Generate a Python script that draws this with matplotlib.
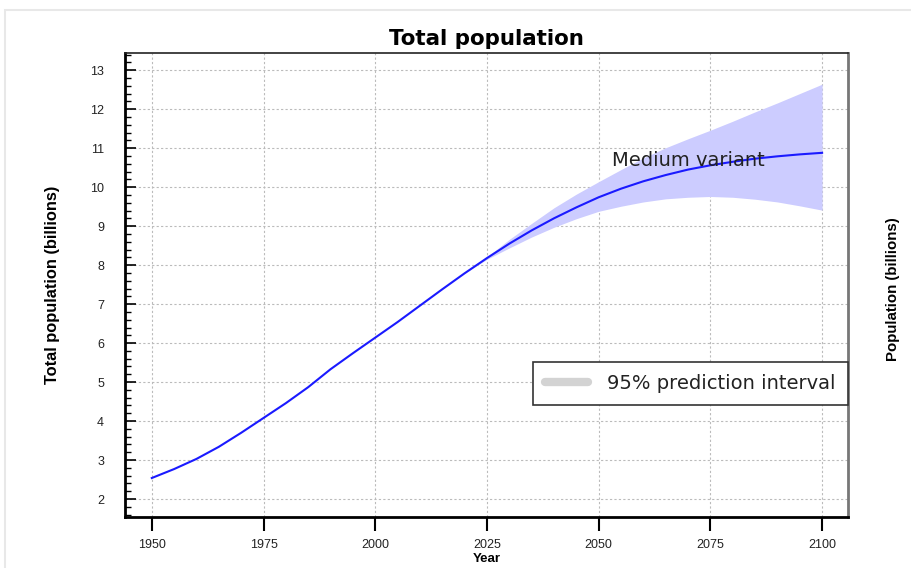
import matplotlib
matplotlib.use("Agg")
import matplotlib.pyplot as plt
from matplotlib.patches import Rectangle
from matplotlib.lines import Line2D
from matplotlib.ticker import MultipleLocator

plt.rcParams['font.family'] = ['Liberation Sans', 'DejaVu Sans']

years = [1950, 1955, 1960, 1965, 1970, 1975, 1980, 1985, 1990, 1995, 2000, 2005,
         2010, 2015, 2020, 2025, 2030, 2035, 2040, 2045, 2050, 2055, 2060, 2065,
         2070, 2075, 2080, 2085, 2090, 2095, 2100]
medium = [2.54, 2.77, 3.03, 3.34, 3.70, 4.08, 4.46, 4.87, 5.33, 5.74, 6.14, 6.54,
          6.96, 7.38, 7.79, 8.18, 8.55, 8.89, 9.20, 9.48, 9.74, 9.96, 10.15, 10.31,
          10.45, 10.56, 10.65, 10.73, 10.79, 10.84, 10.88]

pi_years = [2020, 2025, 2030, 2035, 2040, 2045, 2050, 2055, 2060, 2065, 2070,
            2075, 2080, 2085, 2090, 2095, 2100]
pi_lower = [7.79, 8.15, 8.44, 8.72, 8.97, 9.19, 9.38, 9.51, 9.62, 9.70, 9.74,
            9.76, 9.74, 9.69, 9.62, 9.52, 9.41]
pi_upper = [7.79, 8.21, 8.66, 9.07, 9.47, 9.82, 10.14, 10.45, 10.75, 11.01, 11.24,
            11.46, 11.69, 11.93, 12.16, 12.40, 12.64]

xticks = [1950, 1975, 2000, 2025, 2050, 2075, 2100]
yticks = list(range(2, 14))

fig = plt.figure(figsize=(9.12, 5.68), dpi=100)
fig.patches.append(Rectangle((5/912, -0.1), 1.2, 1 - 10/568 + 0.1, transform=fig.transFigure,
                             fill=False, edgecolor='#e8e8e8', linewidth=1.5))
ax = fig.add_axes([125/912, 1 - 517/568, (848-125)/912, (517-53)/568])

ax.fill_between(pi_years, pi_lower, pi_upper, color='#ccccff', linewidth=0, zorder=2)
ax.plot(years, medium, color='#1a1aff', linewidth=1.5, zorder=3)

ax.set_xlim(1944, 2105.8)
ax.set_ylim(1.54, 13.44)
ax.set_xticks(xticks)
ax.set_yticks(yticks)
ax.yaxis.set_minor_locator(MultipleLocator(0.2))
ax.tick_params(axis='x', direction='out', length=10, width=1.5, labelsize=9, pad=6, colors='black')
ax.tick_params(axis='y', which='major', direction='in', length=8, width=1.2, labelsize=9, pad=15)
ax.tick_params(axis='y', which='minor', direction='in', length=4, width=1)
ax.tick_params(axis='both', labelcolor='#222222')

ax.grid(True, which='major', color='#bbbbbb', linestyle=(0, (2, 2)), linewidth=0.8, zorder=1)
ax.set_axisbelow(True)

for s in ['left', 'bottom']:
    ax.spines[s].set_linewidth(2)
    ax.spines[s].set_color('black')
ax.spines['top'].set_linewidth(1.2)
ax.spines['top'].set_color('#222222')
ax.spines['right'].set_linewidth(2)
ax.spines['right'].set_color('#777777')

ax.set_title('Total population', fontsize=15.4, fontweight='bold', pad=6,
             family=['DejaVu Sans'])
ax.set_xlabel('Year', fontsize=9.5, fontweight='bold', labelpad=1)
ax.set_ylabel('Total population (billions)', fontsize=11.8, fontweight='bold', labelpad=22)
fig.text(893/912, 1 - 289/568, 'Population (billions)', rotation=90, fontsize=10.8,
         fontweight='bold', ha='center', va='center')

ax.text(2053, 10.69, 'Medium variant', fontsize=14, color='#222222', va='center', ha='left',
        zorder=4, family=['DejaVu Sans'])

handle = Line2D([], [], color='#d3d3d3', linewidth=6, solid_capstyle='round')
leg = ax.legend([handle], ['95% prediction interval'], loc='lower right',
                bbox_to_anchor=(1.0, (517 - 405) / 464),
                prop={'family': ['DejaVu Sans'], 'size': 14},
                frameon=True, fancybox=False, handlelength=2.2,
                borderpad=0.62, handletextpad=1.0, borderaxespad=0)
for t in leg.get_texts():
    t.set_color('#222222')
leg.get_frame().set_edgecolor('#333333')
leg.get_frame().set_linewidth(1.2)
leg.get_frame().set_alpha(1)

fig.savefig('out.png', dpi=100)
